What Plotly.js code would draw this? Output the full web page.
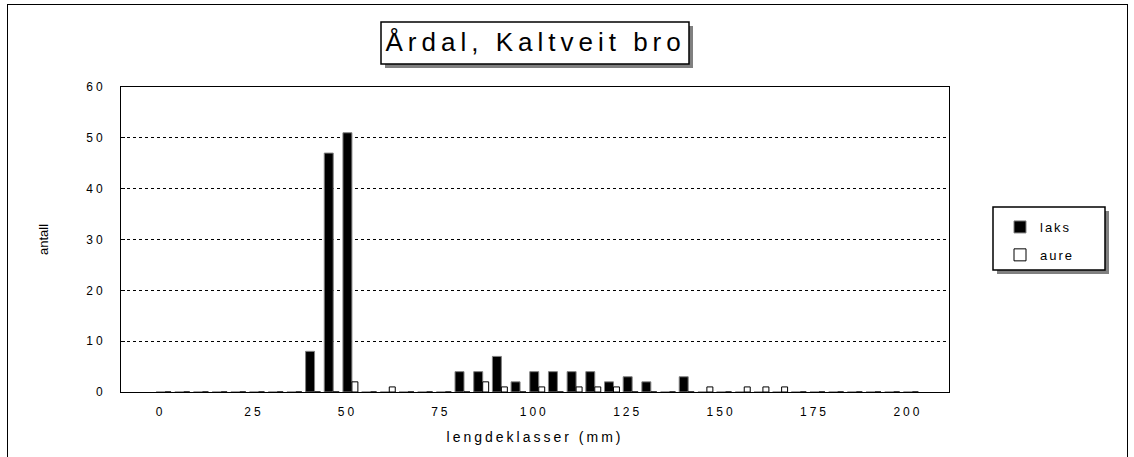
<!DOCTYPE html>
<html>
<head>
<meta charset="utf-8">
<script src="https://cdn.plot.ly/plotly-3.0.1.min.js"></script>
<style>
  html, body { margin: 0; padding: 0; background: #fff; }
  #chart { position: absolute; left: 0; top: 0; width: 1134px; height: 457px; }
  #frame { position: absolute; left: 7px; top: 4px; width: 1119px; height: 460px; border: 1px solid #000; pointer-events: none; }
  #chart .xtick text, #chart .ytick text { letter-spacing: 3px; }
  #chart .xtitle { letter-spacing: 3px; }
  #chart .legendtext { letter-spacing: 2px; }
  #chart .annotation-text { letter-spacing: 5px; }
</style>
</head>
<body>
<div id="chart"></div>
<div id="frame"></div>
<script>
// length classes (mm)
const lengthClasses = [0,5,10,15,20,25,30,35,40,45,50,55,60,65,70,75,80,85,90,95,100,
                       105,110,115,120,125,130,135,140,145,150,155,160,165,170,175,180,185,190,195,200];
const laks = [0,0,0,0,0,0,0,0,8,47,51,0,0,0,0,0,4,4,7,2,4,
              4,4,4,2,3,2,0,3,0,0,0,0,0,0,0,0,0,0,0,0];
const aure = [0,0,0,0,0,0,0,0,0,0,2,0,1,0,0,0,0,2,1,0,1,
              0,1,1,1,0,0,0,0,1,0,1,1,1,0,0,0,0,0,0,0];
const xTickVals = [0,25,50,75,100,125,150,175,200];
const yTickVals = [0,10,20,30,40,50,60];
const chartTitle = "Årdal, Kaltveit bro";
const seriesNames = ["laks", "aure"];

// plot area in pixels
const L = 121, R = 949, T = 87, B = 392;
const xp = px => (px - L) / (R - L);
const yp = py => (B - py) / (B - T);

const font = "Liberation Sans, Arial, sans-serif";

const traces = [
  {
    type: "bar", name: seriesNames[0], x: lengthClasses, y: laks,
    width: 2.4, offset: -1.2, legendgroup: "g1",
    marker: { color: "#000", line: { color: "#808080", width: 1 } }
  },
  {
    type: "bar", name: seriesNames[1], x: lengthClasses, y: aure,
    width: 1.6, offset: 1.2, legendgroup: "g2",
    marker: { color: "#fff", line: { color: "#000", width: 1 } }
  }
];

const layout = {
  width: 1134, height: 457,
  margin: { l: L, r: 1134 - R, t: T, b: 457 - B, pad: 0 },
  paper_bgcolor: "#fff", plot_bgcolor: "#fff",
  font: { family: font, color: "#000", size: 12 },
  barmode: "overlay",
  showlegend: true,
  legend: {
    x: xp(1000), y: yp(212), xanchor: "left", yanchor: "top",
    bgcolor: "rgba(0,0,0,0)", borderwidth: 0,
    font: { family: font, size: 13, color: "#000" },
    traceorder: "grouped", tracegroupgap: 8
  },
  xaxis: {
    type: "linear", range: [-10.6, 211],
    tickmode: "array", tickvals: xTickVals,
    showgrid: false, zeroline: false,
    showline: true, linecolor: "#000", linewidth: 1, mirror: true,
    ticks: "", ticklabelstandoff: 9, tickfont: { family: font, size: 12 },
    title: { text: "lengdeklasser (mm)", font: { family: font, size: 14 }, standoff: 13 }
  },
  yaxis: {
    range: [0, 60], tickmode: "array", tickvals: yTickVals,
    showgrid: true, gridcolor: "#000", gridwidth: 1, griddash: "dot",
    zeroline: false,
    showline: true, linecolor: "#000", linewidth: 1, mirror: true,
    ticks: "inside", ticklen: 4, tickcolor: "#000",
    ticklabelstandoff: 12,
    tickfont: { family: font, size: 12 },
    title: { text: "antall", font: { family: font, size: 13 }, standoff: 40 }
  },
  shapes: [
    // title shadow and box
    { type: "rect", xref: "paper", yref: "paper", x0: xp(385), x1: xp(693), y0: yp(68), y1: yp(26),
      fillcolor: "#808080", line: { width: 0 }, layer: "above" },
    { type: "rect", xref: "paper", yref: "paper", x0: xp(381), x1: xp(689), y0: yp(64), y1: yp(22),
      fillcolor: "#fff", line: { color: "#000", width: 1.5 }, layer: "above" },
    // legend shadow and box
    { type: "rect", xref: "paper", yref: "paper", x0: xp(997), x1: xp(1109), y0: yp(274), y1: yp(211),
      fillcolor: "#808080", line: { width: 0 }, layer: "above" },
    { type: "rect", xref: "paper", yref: "paper", x0: xp(993), x1: xp(1105), y0: yp(270), y1: yp(207),
      fillcolor: "#fff", line: { color: "#000", width: 1.5 }, layer: "above" }
  ],
  annotations: [
    { xref: "paper", yref: "paper", x: xp(535), y: yp(42), xanchor: "center", yanchor: "middle",
      text: chartTitle, showarrow: false, font: { family: font, size: 26, color: "#000" } }
  ]
};

Plotly.newPlot("chart", traces, layout, { displayModeBar: false, staticPlot: true });
</script>
</body>
</html>
